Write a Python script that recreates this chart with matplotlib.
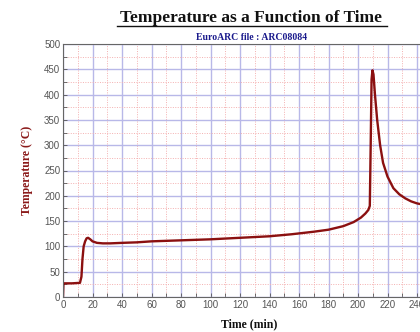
import matplotlib
matplotlib.use("Agg")
import matplotlib.pyplot as plt
from matplotlib.lines import Line2D

time_min = [0, 0.3, 1, 6, 11.5, 12.5, 13.2, 14, 15, 16, 17, 18.5, 20, 23, 27, 32, 40, 50, 60, 70, 80,
            100, 120, 140, 155, 170, 180, 190, 197, 202, 205, 207, 208, 208.6, 209.2, 209.8,
            210.5, 211.5, 213, 215, 217, 220, 224, 228, 232, 236, 240, 245]
temperature = [0, 27, 27, 27, 28, 40, 75, 100, 110, 116, 117, 114, 110, 107, 106, 106, 107, 108, 110, 111, 112,
               114, 117, 120, 124, 129, 133, 140, 148, 157, 165, 172, 180, 300, 430, 448,
               440, 400, 350, 300, 265, 238, 215, 203, 195, 189, 185, 182]

x_major = list(range(0, 260, 20))
y_major = list(range(0, 550, 50))

fig = plt.figure(figsize=(4.2, 3.32), dpi=100)
W, H = 420, 332
left_px, top_px, bottom_px = 63, 44, 297
px_per_min = (417 - 63) / 240
xmax = 252
ax_w = xmax * px_per_min
ax = fig.add_axes([left_px / W, (H - bottom_px) / H, ax_w / W, (bottom_px - top_px) / H])
ax.set_xlim(0, xmax)
ax.set_ylim(0, 500)

ax.set_xticks(x_major)
ax.set_yticks(y_major)
ax.set_xticks(list(range(10, 260, 20)), minor=True)
ax.set_yticks(list(range(25, 500, 50)), minor=True)
ax.grid(True, which="major", color="#b8b8e8", linewidth=1.0)
ax.grid(True, which="minor", color="#f4b0b0", linewidth=0.7, linestyle=(0, (1, 1.5)))
ax.set_axisbelow(True)

ax.tick_params(which="both", direction="in", length=3, color="#555555", width=0.6)
ax.tick_params(which="major", labelsize=7, labelcolor="#555555", pad=2)
for lab in ax.get_xticklabels() + ax.get_yticklabels():
    lab.set_family("Liberation Sans")
for s in ax.spines.values():
    s.set_color("#666666")
    s.set_linewidth(0.8)

ax.plot(time_min, temperature, color="#8b1010", linewidth=1.7, solid_joinstyle="round")

ax.set_xlabel("Time (min)", family="Liberation Serif", fontweight="bold", fontsize=8.5, color="#111111", labelpad=6)
ax.set_ylabel("Temperature (°C)", family="Liberation Serif", fontweight="bold", fontsize=8.5, color="#8b1a1a", labelpad=8)

fig.text(251 / W, 1 - 18 / H, "Temperature as a Function of Time", ha="center", va="center",
         family="Liberation Serif", fontweight="bold", fontsize=12.5, color="#111111")
fig.add_artist(Line2D([117 / W, 387 / W], [1 - 26 / H, 1 - 26 / H], color="#111111", linewidth=1.0))
fig.text(251 / W, 1 - 37 / H, "EuroARC file : ARC08084", ha="center", va="center",
         family="Liberation Serif", fontweight="bold", fontsize=7, color="#1a1a8c")

fig.savefig("out.png", dpi=100)
